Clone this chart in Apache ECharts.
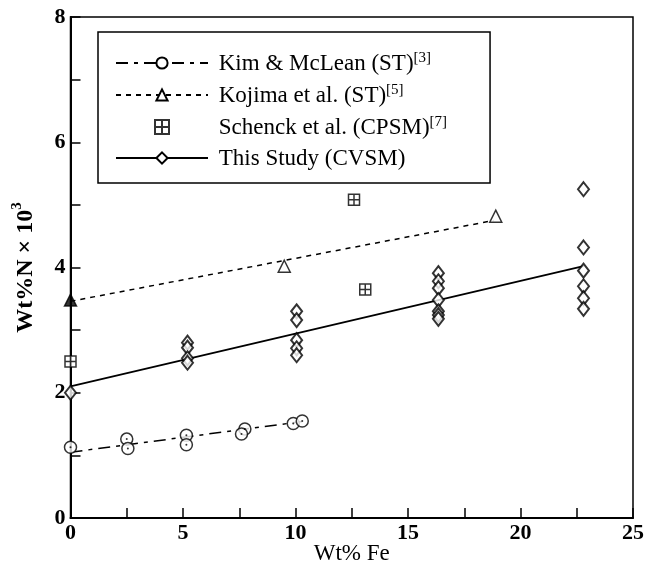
<!DOCTYPE html>
<html><head><meta charset="utf-8">
<script src="https://cdn.jsdelivr.net/npm/echarts@6/dist/echarts.min.js"></script>
<style>html,body{margin:0;padding:0;background:#fff}#c{width:662px;height:578px}</style>
</head><body><div id="c"></div>
<script>
// ---- data ----
const kimFe = [0, 2.5, 2.55, 5.15, 5.15, 7.75, 7.6, 9.9, 10.3];
const kimN  = [1.13, 1.26, 1.11, 1.32, 1.17, 1.42, 1.34, 1.51, 1.55];
const kimFitFe = [0, 10.3];
const kimFitN  = [1.05, 1.54];

const kojFe = [0, 9.5, 18.9];
const kojN  = [3.48, 4.02, 4.82];
const kojFitFe = [0, 18.8];
const kojFitN  = [3.46, 4.75];

const schFe = [0, 12.6, 13.1];
const schN  = [2.5, 5.08, 3.65];

const studyFe = [0, 5.2, 5.2, 5.2, 5.2, 10.05, 10.05, 10.05, 10.05, 10.05,
                 16.35, 16.35, 16.35, 16.35, 16.35, 16.35, 16.35,
                 22.8, 22.8, 22.8, 22.8, 22.8, 22.8];
const studyN  = [2.0, 2.80, 2.72, 2.55, 2.48, 3.30, 3.16, 2.84, 2.71, 2.60,
                 3.91, 3.78, 3.67, 3.48, 3.30, 3.24, 3.18,
                 5.25, 4.32, 3.95, 3.70, 3.51, 3.34];
const studyFitFe = [0, 22.8];
const studyFitN  = [2.1, 4.02];

const seriesNames = ['Kim & McLean (ST)', 'Kojima et al. (ST)', 'Schenck et al. (CPSM)', 'This Study (CVSM)'];
const refMarks = {'Kim & McLean (ST)': '[3]', 'Kojima et al. (ST)': '[5]', 'Schenck et al. (CPSM)': '[7]', 'This Study (CVSM)': ''};
const xLabelTicks = [0, 5, 10, 15, 20, 25];
const yLabelTicks = [0, 2, 4, 6, 8];

const zip = (a, b) => a.map((v, i) => [v, b[i]]);
const serif = 'Liberation Serif';
const squarePath = 'path://M0,0H10V10H0Z M5,0V10 M0,5H10';

const chart = echarts.init(document.getElementById('c'));
chart.setOption({
  animation: false,
  backgroundColor: '#fff',
  grid: { left: 70.5, right: 29, top: 17, bottom: 60, show: true, borderColor: '#000', borderWidth: 1.5,
          outerBoundsMode: 'none', containLabel: false },
  xAxis: {
    type: 'value', min: 0, max: 25, interval: 2.5,
    name: 'Wt% Fe', nameLocation: 'middle', nameGap: 24, nameMoveOverlap: false,
    nameTextStyle: { fontFamily: serif, fontSize: 23, color: '#000', verticalAlign: 'top' },
    axisLine: { lineStyle: { color: '#000', width: 2 } },
    axisTick: { inside: true, length: 10, lineStyle: { color: '#000', width: 1.5 } },
    axisLabel: { fontFamily: serif, fontWeight: 'bold', fontSize: 22, color: '#000', margin: 4,
      formatter: v => xLabelTicks.includes(v) ? String(v) : '' },
    splitLine: { show: false }
  },
  yAxis: {
    type: 'value', min: 0, max: 8, interval: 1,
    name: '{a|Wt%N × 10}{s|3}', nameLocation: 'middle', nameGap: 33, nameRotate: 90, nameMoveOverlap: false,
    nameTextStyle: { color: '#000', rich: {
      a: { fontFamily: serif, fontSize: 24, fontWeight: 'bold', color: '#000', lineHeight: 28, verticalAlign: 'bottom' },
      s: { fontFamily: serif, fontSize: 15, fontWeight: 'bold', color: '#000', lineHeight: 28, verticalAlign: 'top' } } },
    axisLine: { lineStyle: { color: '#000', width: 2 } },
    axisTick: { inside: true, length: 10, lineStyle: { color: '#000', width: 1.5 } },
    axisLabel: { fontFamily: serif, fontWeight: 'bold', fontSize: 22, color: '#000', margin: 5,
      formatter: v => yLabelTicks.includes(v) ? String(v) : '' },
    splitLine: { show: false }
  },
  legend: {
    orient: 'vertical', left: 98, top: 32,
    data: seriesNames,
    itemWidth: 92, itemHeight: 14, itemGap: 8,
    padding: [19, 43, 13, 17],
    borderColor: '#000', borderWidth: 1.5,
    selectedMode: false,
    formatter: n => '{a| ' + n + '}' + (refMarks[n] ? '{s|' + refMarks[n] + '}' : ''),
    textStyle: { color: '#000', rich: {
      a: { fontFamily: serif, fontSize: 23, color: '#000', lineHeight: 24, verticalAlign: 'bottom' },
      s: { fontFamily: serif, fontSize: 15, color: '#000', lineHeight: 24, verticalAlign: 'top' } } }
  },
  series: [
    { name: seriesNames[0], type: 'line', data: zip(kimFitFe, kimFitN), showSymbol: false,
      symbol: 'emptyCircle', symbolSize: 12, itemStyle: { color: '#000' },
      lineStyle: { color: '#000', width: 1.5, type: [12, 6, 4, 6] }, z: 2 },
    { name: seriesNames[0], type: 'scatter', data: zip(kimFe, kimN), symbol: 'circle', symbolSize: 12,
      itemStyle: { color: '#fff', borderColor: '#000', borderWidth: 1.5 }, z: 3 },
    { name: seriesNames[0], type: 'scatter', data: zip(kimFe, kimN), symbol: 'circle', symbolSize: 2,
      itemStyle: { color: '#000' }, z: 4 },

    { name: seriesNames[1], type: 'line', data: zip(kojFitFe, kojFitN), showSymbol: false,
      symbol: 'emptyTriangle', symbolSize: 12, itemStyle: { color: '#000' },
      lineStyle: { color: '#000', width: 1.5, type: [5, 5] }, z: 2 },
    { name: seriesNames[1], type: 'scatter', data: zip(kojFe, kojN), symbol: 'triangle', symbolSize: 12,
      itemStyle: { color: p => p.dataIndex === 0 ? '#000' : '#fff', borderColor: '#000', borderWidth: 1.5 }, z: 3 },

    { name: seriesNames[2], type: 'scatter', data: zip(schFe, schN), symbol: squarePath, symbolSize: 11,
      itemStyle: { color: '#fff', borderColor: '#000', borderWidth: 1.5 }, z: 3 },

    { name: seriesNames[3], type: 'line', data: zip(studyFitFe, studyFitN), showSymbol: false,
      symbol: 'emptyDiamond', symbolSize: [11, 14], itemStyle: { color: '#000' },
      lineStyle: { color: '#000', width: 1.8, type: 'solid' }, z: 2 },
    { name: seriesNames[3], type: 'scatter', data: zip(studyFe, studyN), symbol: 'diamond', symbolSize: [11, 14],
      itemStyle: { color: '#fff', borderColor: '#000', borderWidth: 2 }, z: 3 }
  ]
});
</script></body></html>
